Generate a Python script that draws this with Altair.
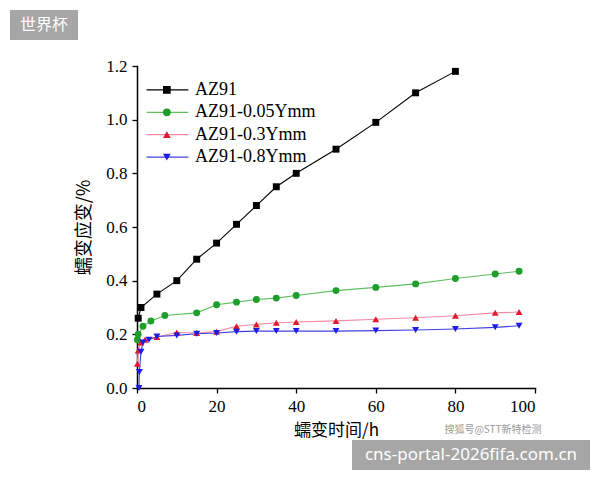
import altair as alt
import pandas as pd

# Creep curves of AZ91 alloy with different Y additions
series_names = ["AZ91", "AZ91-0.05Ymm", "AZ91-0.3Ymm", "AZ91-0.8Ymm"]
line_colors = ["#000000", "#5cc05c", "#f28aa2", "#4040e0"]
marker_colors = ["#000000", "#1e9e2a", "#e3192c", "#1c1ce6"]
marker_shapes = ["square", "circle", "triangle-up", "triangle-down"]

az91_t = [0.3, 1, 5, 10, 15, 20, 25, 30, 35, 40, 50, 60, 70, 80]
az91_e = [0.26, 0.30, 0.35, 0.40, 0.48, 0.54, 0.61, 0.68, 0.75, 0.80, 0.89, 0.99, 1.10, 1.18]

y005_t = [0.1, 0.3, 1.5, 3.5, 7, 15, 20, 25, 30, 35, 40, 50, 60, 70, 80, 90, 96]
y005_e = [0.18, 0.20, 0.23, 0.25, 0.27, 0.28, 0.31, 0.32, 0.33, 0.335, 0.345, 0.363, 0.375, 0.388, 0.408, 0.425, 0.435]

y03_t = [0.1, 0.3, 1, 2, 5, 10, 15, 20, 25, 30, 35, 40, 50, 60, 70, 80, 90, 96]
y03_e = [0.09, 0.14, 0.17, 0.18, 0.19, 0.207, 0.205, 0.21, 0.23, 0.237, 0.243, 0.246, 0.25, 0.256, 0.262, 0.269, 0.28, 0.283]

y08_t = [0.5, 0.6, 1, 1.5, 3, 5, 10, 15, 20, 25, 30, 35, 40, 50, 60, 70, 80, 90, 96]
y08_e = [0.0, 0.06, 0.135, 0.17, 0.18, 0.192, 0.196, 0.202, 0.205, 0.21, 0.212, 0.212, 0.212, 0.212, 0.214, 0.216, 0.22, 0.226, 0.232]

x_ticks = [0, 10, 20, 30, 40, 50, 60, 70, 80, 90, 100]
y_ticks = [0.0, 0.1, 0.2, 0.3, 0.4, 0.5, 0.6, 0.7, 0.8, 0.9, 1.0, 1.1, 1.2]

rows = []
for name, ts, es in zip(series_names,
                        [az91_t, y005_t, y03_t, y08_t],
                        [az91_e, y005_e, y03_e, y08_e]):
    for t, e in zip(ts, es):
        rows.append({"series": name, "t": t, "e": e})
df = pd.DataFrame(rows)
df["order"] = df["series"].map({n: i for i, n in enumerate(series_names)})

serif = "Liberation Serif"
cjk = "Noto Sans CJK SC"

x_scale = alt.Scale(domain=[0, 100], nice=False, zero=False)
y_scale = alt.Scale(domain=[0, 1.2], nice=False, zero=False)

x_axis = alt.Axis(
    values=x_ticks, format="d", grid=False,
    labelExpr="datum.value % 20 === 0 ? datum.label : ''",
    tickSize={"condition": {"test": "datum.value % 20 === 0", "value": 5}, "value": 3},
    title="蠕变时间/h", titleFont=cjk, titleFontSize=17, titleFontWeight="normal",
    titlePadding=8, labelFont=serif, labelFontSize=17, labelColor="#000",
    labelPadding=5, domainColor="#000", domainWidth=1.5, tickColor="#000",
    tickWidth=1.3, titleColor="#000",
)
y_axis = alt.Axis(
    values=y_ticks, format=".1f", grid=False,
    labelExpr="round(datum.value * 10) % 2 === 0 ? datum.label : ''",
    tickSize={"condition": {"test": "round(datum.value * 10) % 2 === 0", "value": 5}, "value": 3},
    title="蠕变应变/%", titleFont=cjk, titleFontSize=18, titleFontWeight="normal",
    titlePadding=12, labelFont=serif, labelFontSize=17, labelColor="#000",
    labelPadding=5, domainColor="#000", domainWidth=1.5, tickColor="#000",
    tickWidth=1.3, titleColor="#000",
)

color_line = alt.Scale(domain=series_names, range=line_colors)
color_mark = alt.Scale(domain=series_names, range=marker_colors)
shape_scale = alt.Scale(domain=series_names, range=marker_shapes)

base = alt.Chart(df)

lines = base.mark_line(strokeWidth=1.1).encode(
    x=alt.X("t:Q", scale=x_scale, axis=x_axis),
    y=alt.Y("e:Q", scale=y_scale, axis=y_axis),
    color=alt.Color("series:N", scale=color_line, legend=None),
    detail="series:N",
    order="t:Q",
)

points = base.mark_point(filled=True, size=48, opacity=1).encode(
    x="t:Q",
    y="e:Q",
    fill=alt.Fill("series:N", scale=color_mark, legend=None),
    shape=alt.Shape("series:N", scale=shape_scale, legend=None),
    order="order:Q",
)

# Legend drawn inside the plot, top-left
leg_y0 = 1.111
leg_dy = 0.0835
leg = pd.DataFrame({
    "series": series_names,
    "y": [leg_y0 - i * leg_dy for i in range(len(series_names))],
    "x0": [2.4] * 4, "x1": [12.9] * 4, "xm": [7.5] * 4, "xt": [14.6] * 4,
})
leg_base = alt.Chart(leg)
leg_lines = leg_base.mark_rule(strokeWidth=1.3).encode(
    x="x0:Q", x2="x1:Q", y="y:Q",
    color=alt.Color("series:N", scale=color_line, legend=None),
)
leg_pts = leg_base.mark_point(filled=True, size=60, opacity=1).encode(
    x="xm:Q", y="y:Q",
    fill=alt.Fill("series:N", scale=color_mark, legend=None),
    shape=alt.Shape("series:N", scale=shape_scale, legend=None),
)
leg_text = leg_base.mark_text(align="left", baseline="middle", font=serif,
                              fontSize=18, color="#000").encode(
    x="xt:Q", y="y:Q", text="series:N",
)

# Site badges around the figure
badge_tl = alt.Chart(pd.DataFrame({"t": ["世界杯"]}))
tl_box = badge_tl.mark_rect(color="#a6a6a6").encode(
    x=alt.value(-127), x2=alt.value(-59), y=alt.value(-56), y2=alt.value(-26))
tl_txt = badge_tl.mark_text(font=cjk, fontSize=16, color="#ffffff",
                            align="center", baseline="middle").encode(
    x=alt.value(-93), y=alt.value(-41), text="t:N")

badge_br = alt.Chart(pd.DataFrame({"t": ["cns-portal-2026fifa.com.cn"]}))
br_box = badge_br.mark_rect(color="#a6a6a6").encode(
    x=alt.value(215), x2=alt.value(453), y=alt.value(374), y2=alt.value(404))
br_txt = badge_br.mark_text(font="Noto Sans", fontSize=17, color="#ffffff",
                            align="center", baseline="middle").encode(
    x=alt.value(334), y=alt.value(389), text="t:N")

src = alt.Chart(pd.DataFrame({"t": ["搜狐号@STT新特检测"]})).mark_text(
    font=cjk, fontSize=10, color="#9a9a9a", align="center", baseline="middle"
).encode(x=alt.value(356), y=alt.value(364), text="t:N")

chart = alt.layer(
    lines, points, leg_lines, leg_pts, leg_text,
    tl_box, tl_txt, br_box, br_txt, src,
).properties(
    width=398, height=322,
    padding={"left": 137, "top": 66, "right": 65, "bottom": 92},
    autosize=alt.AutoSizeParams(type="none"),
    background="#ffffff",
).configure_view(stroke=None).configure_axis(
    domainCap="square"
)

chart.save("out.html", embed_options={"renderer": "svg", "actions": False})
